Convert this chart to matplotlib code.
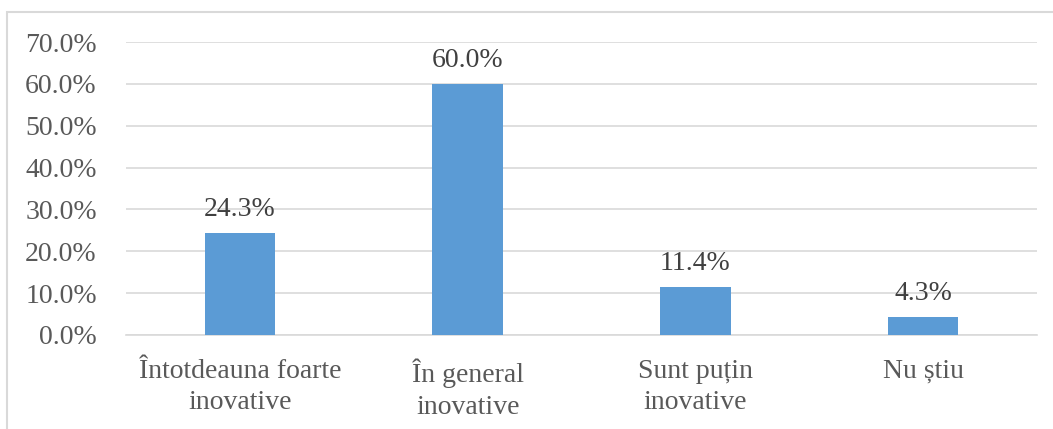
import matplotlib.pyplot as plt
from matplotlib.patches import Rectangle
from matplotlib.ticker import FuncFormatter

categories = ['Întotdeauna foarte\ninovative', 'În general\ninovative', 'Sunt puțin\ninovative', 'Nu știu']
values = [24.3, 60.0, 11.4, 4.3]

W, H = 1053, 429
fig = plt.figure(figsize=(W / 100, H / 100), dpi=100)
plt.rcParams['font.family'] = ['Liberation Serif', 'DejaVu Serif']

# outer chart border (runs off the right and bottom of the image)
fig.patches.append(Rectangle((7 / W, -0.1), 1.2, 1 - 12 / H + 0.1, transform=fig.transFigure,
                             fill=False, edgecolor='#d9d9d9', linewidth=1.5))

ax = fig.add_axes([126 / W, 1 - 335 / H, (1037 - 126) / W, (335 - 42) / H])
x = range(len(categories))
bars = ax.bar(x, values, width=0.31, color='#5b9bd5', zorder=3)

ax.set_xlim(-0.5, len(categories) - 0.5)
ax.set_ylim(0, 70)
ax.set_yticks(range(0, 71, 10))
ax.yaxis.set_major_formatter(FuncFormatter(lambda v, p: f'{v:.1f}%'))
ax.grid(axis='y', color='#d9d9d9', linewidth=1.2, zorder=0)
for s in ['top', 'right', 'left']:
    ax.spines[s].set_visible(False)
ax.spines['bottom'].set_color('#d9d9d9')
ax.spines['bottom'].set_linewidth(1.2)
ax.tick_params(length=0, labelsize=20, colors='#595959')
ax.tick_params(axis='y', pad=21)
ax.tick_params(axis='x', pad=17)
ax.set_xticks(list(x))
ax.set_xticklabels(categories, linespacing=1.35)

for b, v in zip(bars, values):
    ax.annotate(f'{v:.1f}%', (b.get_x() + b.get_width() / 2, v), xytext=(0, 8),
                textcoords='offset points', ha='center', va='bottom',
                fontsize=20, color='#404040')

fig.savefig('out.png', dpi=100)
